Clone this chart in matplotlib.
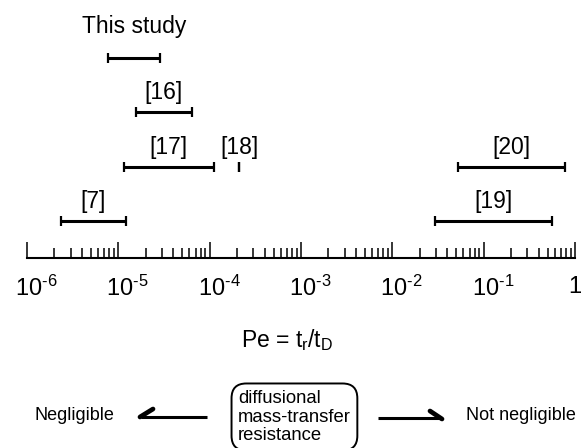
import matplotlib
matplotlib.use("Agg")
import matplotlib.pyplot as plt
import matplotlib.transforms as mtransforms
import numpy as np

plt.rcParams['font.family'] = ['Liberation Sans', 'DejaVu Sans']
plt.rcParams['mathtext.fontset'] = 'custom'
plt.rcParams['mathtext.rm'] = 'Liberation Sans'
plt.rcParams['mathtext.it'] = 'Liberation Sans'

# Pe ranges reported by each study (low, high) and the row they sit on (0 = top)
studies = ['This study', '[16]', '[17]', '[18]', '[7]', '[20]', '[19]']
pe_low = [7.7e-6, 1.56e-5, 1.15e-5, 2.1e-4, 2.36e-6, 5.2e-2, 2.9e-2]
pe_high = [2.86e-5, 6.4e-5, 1.11e-4, 2.1e-4, 1.21e-5, 7.8e-1, 5.6e-1]
rows = [0, 1, 2, 2, 3, 2, 3]

decades = [1e-6, 1e-5, 1e-4, 1e-3, 1e-2, 1e-1, 1]
tick_labels = [r'$\mathregular{10^{\text{-6}}}$', r'$\mathregular{10^{\text{-5}}}$',
               r'$\mathregular{10^{\text{-4}}}$', r'$\mathregular{10^{\text{-3}}}$',
               r'$\mathregular{10^{\text{-2}}}$', r'$\mathregular{10^{\text{-1}}}$', '1']

W, H = 584, 448
fig = plt.figure(figsize=(W / 100, H / 100), dpi=100)

# scale axis: bottom spine is the Pe line
ax = fig.add_axes([27 / W, (H - 258) / H, (575 - 27) / W, 258 / H])
ax.set_xscale('log')
ax.set_xlim(1e-6, 1)
ax.set_ylim(3.68, -1.07)
for side in ['top', 'left', 'right']:
    ax.spines[side].set_visible(False)
ax.spines['bottom'].set_linewidth(1.5)
ax.patch.set_alpha(0)
ax.set_yticks([])
ax.set_xticks(decades)
ax.set_xticklabels(tick_labels)
ax.xaxis.set_minor_locator(matplotlib.ticker.LogLocator(base=10, subs=np.arange(2, 10), numticks=20))
ax.xaxis.set_minor_formatter(matplotlib.ticker.NullFormatter())
ax.tick_params(axis='x', which='major', direction='in', length=11.5, width=1.1,
               labelsize=17, pad=13)
ax.tick_params(axis='x', which='minor', direction='in', length=7.2, width=1.1)

# shift labels so the "10" sits under the tick, the superscript hangs right
shift = mtransforms.ScaledTranslation(-0.12, 0, fig.dpi_scale_trans)
for lab in ax.get_xticklabels()[:-1]:
    lab.set_horizontalalignment('left')
    lab.set_transform(lab.get_transform() + shift)

for name, lo, hi, r in zip(studies, pe_low, pe_high, rows):
    ax.plot([lo, hi], [r, r], color='black', lw=2.2, marker='|', ms=7.5, mew=1.6,
            solid_capstyle='butt')
    mid = np.sqrt(lo * hi)
    off = 23 if name == 'This study' else 14
    ax.annotate(name, (mid, r), xytext=(0, off), textcoords='offset points',
                ha='center', va='center', fontsize=16.5)

# annotation layer in pixel coordinates
ov = fig.add_axes([0, 0, 1, 1], zorder=-1)
ov.set_xlim(0, W)
ov.set_ylim(H, 0)
ov.axis('off')

ov.text(287, 340, r'Pe = t$_\mathregular{r}$/t$_\mathregular{D}$', ha='center', va='center', fontsize=16.5)

ov.text(74, 415, 'Negligible', ha='center', va='center', fontsize=13)
ov.text(521, 415, 'Not negligible', ha='center', va='center', fontsize=13)

ov.text(238, 417, 'diffusional\nmass-transfer\nresistance', ha='left', va='center',
        fontsize=13.3, linespacing=1.12,
        bbox=dict(boxstyle='round,pad=0.35,rounding_size=0.8', fc='white', ec='black', lw=1.4))

# harpoon arrows
ov.plot([141, 207], [417, 417], color='black', lw=2.2, solid_capstyle='butt')
ov.plot([140, 153], [417, 409], color='black', lw=3.4, solid_capstyle='round')
ov.plot([378, 441], [418, 418], color='black', lw=2.2, solid_capstyle='butt')
ov.plot([442, 430], [419, 411], color='black', lw=3.4, solid_capstyle='round')

fig.savefig('out.png', dpi=100)
